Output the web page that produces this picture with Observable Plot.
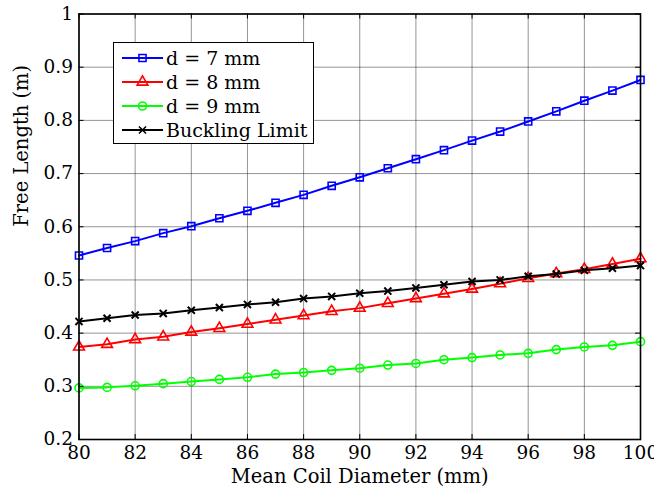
<!DOCTYPE html>
<html><head><meta charset="utf-8">
<script src="https://cdn.jsdelivr.net/npm/d3@7"></script>
<script src="https://cdn.jsdelivr.net/npm/@observablehq/plot@0.6"></script>
<style>
body{margin:0;background:#fff;}
#wrap{position:relative;width:654px;height:488px;font-family:"DejaVu Serif",serif;}
#legend{position:absolute;left:113px;top:42px;width:201px;height:102px;border:1.5px solid #000;background:#fff;box-sizing:border-box;padding-top:3px;}
.row{height:24px;display:flex;align-items:center;font-size:19px;color:#000;white-space:nowrap;}
.row svg{margin-left:8px;margin-right:3px;}
</style></head><body><div id="wrap"></div>
<script>
const diameters = [80,81,82,83,84,85,86,87,88,89,90,91,92,93,94,95,96,97,98,99,100];
const free7 = [0.546,0.560,0.573,0.588,0.601,0.616,0.630,0.645,0.660,0.677,0.693,0.710,0.727,0.744,0.762,0.779,0.798,0.817,0.837,0.856,0.876];
const free8 = [0.374,0.379,0.388,0.393,0.402,0.409,0.417,0.425,0.433,0.441,0.447,0.456,0.465,0.474,0.483,0.493,0.503,0.512,0.520,0.530,0.540];
const free9 = [0.297,0.298,0.301,0.305,0.309,0.313,0.317,0.323,0.326,0.330,0.334,0.340,0.343,0.350,0.354,0.359,0.362,0.369,0.374,0.377,0.384];
const buckling = [0.422,0.428,0.434,0.437,0.443,0.448,0.454,0.458,0.465,0.469,0.475,0.479,0.485,0.491,0.497,0.500,0.507,0.511,0.518,0.522,0.527];
const seriesNames = ["d = 7 mm","d = 8 mm","d = 9 mm","Buckling Limit"];
const seriesColors = ["#0000ff","#ff0000","#00ff00","#000000"];
const seriesSymbols = ["square","triangle","circle","times"];
const xTicks = [80,82,84,86,88,90,92,94,96,98,100];
const yTicks = [0.2,0.3,0.4,0.5,0.6,0.7,0.8,0.9,1];
const xLabel = "Mean Coil Diameter (mm)";
const yLabel = "Free Length (m)";

const allValues = [free7, free8, free9, buckling];
const W = 654, H = 488, mL = 78.5, mR = 14, mT = 13.5, mB = 49;
const fw = W - mL - mR, fh = H - mT - mB;
const symR = [4, 4, 4, 3.3];

const marks = [
  Plot.ruleX(xTicks, {stroke: "#000", strokeOpacity: 0.42, strokeWidth: 1}),
  Plot.ruleY(yTicks, {stroke: "#000", strokeOpacity: 0.42, strokeWidth: 1}),
];
allValues.forEach((vals, i) => {
  const data = diameters.map((d, j) => ({d, v: vals[j]}));
  marks.push(Plot.line(data, {x: "d", y: "v", stroke: seriesColors[i], strokeWidth: 2}));
  marks.push(Plot.dot(data, {x: "d", y: "v", stroke: seriesColors[i], fill: "none", symbol: seriesSymbols[i], r: symR[i], strokeWidth: i === 3 ? 2 : 1.6}));
});
marks.push(
  Plot.tickX(xTicks, {x: d => d, stroke: "#000", insetTop: fh - 5}),
  Plot.tickX(xTicks, {x: d => d, stroke: "#000", insetBottom: fh - 5}),
  Plot.tickY(yTicks, {y: d => d, stroke: "#000", insetRight: fw - 5}),
  Plot.tickY(yTicks, {y: d => d, stroke: "#000", insetLeft: fw - 5}),
  Plot.frame({stroke: "#000", strokeWidth: 1.6}),
  Plot.axisX(xTicks, {tickSize: 0, tickPadding: 6, tickFormat: d => String(d), fontSize: 18.5, label: null}),
  Plot.axisY(yTicks, {tickSize: 0, tickPadding: 6, tickFormat: d => String(d), fontSize: 18.5, label: null}),
  Plot.text([xLabel], {text: d => d, frameAnchor: "bottom", dy: 37, lineAnchor: "middle", fontSize: 19.5}),
  Plot.text([yLabel], {text: d => d, frameAnchor: "left", dx: -57, rotate: -90, lineAnchor: "middle", fontSize: 19.5})
);

const chart = Plot.plot({
  width: W, height: H,
  marginLeft: mL, marginRight: mR, marginTop: mT, marginBottom: mB,
  x: {domain: [80, 100]},
  y: {domain: [0.2, 1]},
  style: {fontFamily: "'DejaVu Serif', serif", color: "#000", background: "#fff"},
  marks
});
const wrap = document.getElementById("wrap");
wrap.appendChild(chart);

const legend = document.createElement("div");
legend.id = "legend";
seriesNames.forEach((name, i) => {
  const row = document.createElement("div");
  row.className = "row";
  const s = d3.create("svg").attr("width", 41).attr("height", 20);
  s.append("line").attr("x1", 0).attr("x2", 41).attr("y1", 10).attr("y2", 10).attr("stroke", seriesColors[i]).attr("stroke-width", 2);
  const sym = {square: d3.symbolSquare, triangle: d3.symbolTriangle, circle: d3.symbolCircle, times: d3.symbolTimes}[seriesSymbols[i]];
  s.append("path").attr("transform", "translate(20.5,10)").attr("d", d3.symbol(sym, symR[i] * symR[i] * Math.PI)()).attr("fill", "none").attr("stroke", seriesColors[i]).attr("stroke-width", 1.6);
  row.appendChild(s.node());
  const t = document.createElement("span");
  t.textContent = name;
  row.appendChild(t);
  legend.appendChild(row);
});
wrap.appendChild(legend);
</script></body></html>
